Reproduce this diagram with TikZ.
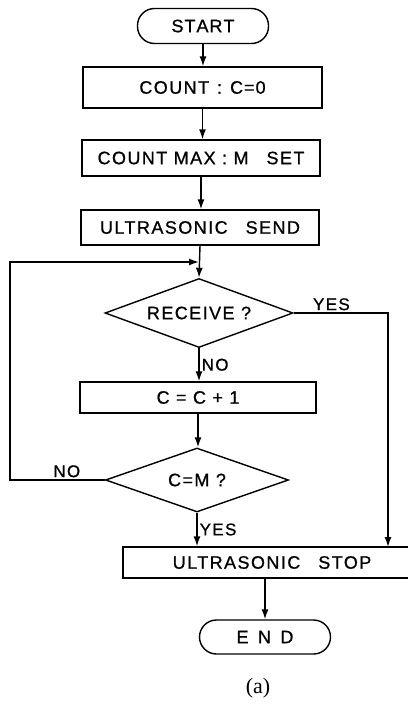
\documentclass[tikz,border=0pt]{standalone}
\usepackage{fontspec}
\usepackage{tikz}
\usetikzlibrary{shapes.geometric, arrows.meta}
\newfontfamily\letterfont[LetterSpace=8, FakeBold=0.8]{Liberation Sans}
\newfontfamily\captionfont{Liberation Serif}

\tikzset{
    proc/.style={draw, line width=1.4pt, rectangle, inner sep=0pt,
        font=\letterfont\fontsize{18}{21}\selectfont},
    term/.style={proc, rounded corners=17pt, minimum width=131pt},
    decide/.style={proc, diamond, aspect=2.7},
    flow/.style={line width=1.4pt, -{Latex[length=10pt,width=7pt]}},
    lbl/.style={font=\letterfont\fontsize{17}{20}\selectfont, inner sep=2pt}
}

\begin{document}
\begin{tikzpicture}[x=1pt, y=-1pt]
    \useasboundingbox (0,0) rectangle (407,706);

    \node[term, minimum height=35pt] (start) at (203,26) {S\kern1pt T\kern1pt A\kern1pt R\kern1pt T};
    \node[proc, minimum width=239pt, minimum height=41pt] (count) at (202.5,87.5) {COUNT\;\,:\;\,C\kern1pt=\kern1pt0};
    \node[proc, minimum width=238pt, minimum height=36pt] (countmax) at (201,158) {COUNT MAX : M\quad SET};
    \node[proc, minimum width=238pt, minimum height=35pt] (send) at (200,227.5) {ULTRASONIC\quad SEND};
    \coordinate (join) at (199,262);
    \node[decide, minimum width=188pt, minimum height=69pt] (receive) at (199,313) {RECEIVE ?};
    \node[proc, minimum width=236pt, minimum height=31pt] (inc) at (198,397.5) {C = C + 1};
    \node[decide, minimum width=183pt, minimum height=64pt] (check) at (197,480) {C=M ?};
    \node[proc, minimum width=298pt, minimum height=31pt] (stop) at (272,562.5) {ULTRASONIC\quad STOP};
    \coordinate (stopin) at (388,547);
    \node[term, minimum height=34pt] (end) at (265,637) {E\, N\, D};
    \node[font=\captionfont\fontsize{22}{26}\selectfont] (cap) at (258,688) {(a)};

    % main column
    \draw[flow] (start.south) -- (start.south |- count.north);
    \draw[flow] (count.south) -- (count.south |- countmax.north);
    \draw[flow] (countmax.south) -- (countmax.south |- send.north);
    \draw[flow] (send.south) -- (receive.north);
    \draw[flow] (receive.south) -- node[lbl, right] {NO} (receive.south |- inc.north);
    \draw[flow] (inc.south) -- (inc.south |- check.north);
    \draw[flow] (check.south) -- node[lbl, right] {YES} (check.south |- stop.north);
    \draw[flow] (end.north |- stop.south) -- (end.north);

    % branches
    \draw[flow] (receive.east) -| node[lbl, above, pos=0.2] {YES} (stopin);
    \draw[flow] (check.west) -- node[lbl, above, pos=0.4] {NO} ++(-95,0) |- (join);
\end{tikzpicture}
\end{document}
